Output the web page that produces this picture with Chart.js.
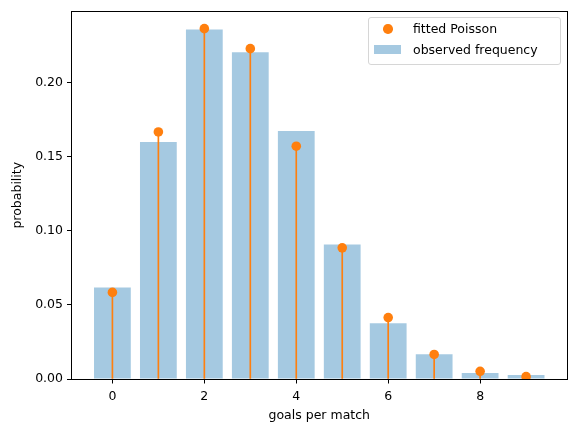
<!DOCTYPE html>
<html>
<head>
<meta charset="utf-8">
<script src="https://cdn.jsdelivr.net/npm/chart.js@4/dist/chart.umd.min.js"></script>
<style>
  html, body { margin: 0; padding: 0; background: #fff; }
  #wrap { position: relative; width: 576px; height: 433px; }
  #legend {
    position: absolute; left: 368px; top: 17px; width: 191px; height: 46px;
    border: 1px solid #d6d6d6; border-radius: 3px; background: rgba(255,255,255,0.8);
    font-family: 'DejaVu Sans', sans-serif; font-size: 12.5px; color: #000;
  }
  .item { position: absolute; left: 0; height: 16px; line-height: 16px; white-space: nowrap; }
  .item span.txt { position: absolute; left: 44px; top: 0; }
  .dot { position: absolute; left: 14px; top: 3px; width: 9.5px; height: 9.5px; border-radius: 50%; }
  .rect { position: absolute; left: 5px; top: 3px; width: 27px; height: 9px; }
</style>
</head>
<body>
<div id="wrap">
  <canvas id="chart" width="576" height="433"></canvas>
  <div id="legend"></div>
</div>
<script>
// goals per match
const goals = [0, 1, 2, 3, 4, 5, 6, 7, 8, 9];
// observed frequency (bars)
const observed = [0.0619, 0.1602, 0.2361, 0.2208, 0.1676, 0.0909, 0.0377, 0.0168, 0.0040, 0.0027];
// fitted Poisson probabilities (dots + stems)
const poisson = [0.0585, 0.1669, 0.2367, 0.2232, 0.1573, 0.0886, 0.0415, 0.0166, 0.0052, 0.0016];
const xTicks = [0, 2, 4, 6, 8];
const yTicks = [0.00, 0.05, 0.10, 0.15, 0.20];

const blue = 'rgba(31,119,180,0.4)';
const orange = '#ff7f0e';
const font = { family: "'DejaVu Sans', sans-serif", size: 12.5 };

const toXY = (vals) => goals.map((g, i) => ({ x: g, y: vals[i] }));

// empty top/right axes, only there to draw the frame lines
const frameAxis = (position) => ({
    type: 'linear',
    position,
    ticks: { display: false },
    grid: { drawOnChartArea: false, drawTicks: false },
    border: { display: true, color: '#000', width: 1 },
    afterFit: (s) => { if (s.isHorizontal()) s.height = 0; else s.width = 0; }
});

const chart = new Chart(document.getElementById('chart').getContext('2d'), {
    type: 'bar',
    data: {
        datasets: [
            {
                type: 'scatter',
                label: 'fitted Poisson',
                data: toXY(poisson),
                backgroundColor: orange,
                borderColor: orange,
                pointRadius: 4.8,
                pointBorderWidth: 0,
                showLine: false,
                order: 1
            },
            {
                label: 'stems',
                data: toXY(poisson),
                backgroundColor: orange,
                barThickness: 1,
                grouped: false,
                order: 2
            },
            {
                label: 'observed frequency',
                data: toXY(observed),
                backgroundColor: blue,
                barPercentage: 0.8,
                categoryPercentage: 1.0,
                grouped: false,
                order: 3
            }
        ]
    },
    options: {
        responsive: false,
        animation: false,
        devicePixelRatio: 1,
        layout: { padding: { top: 10, right: 9, left: 0, bottom: 0 } },
        plugins: { legend: { display: false }, tooltip: { enabled: false } },
        scales: {
            x: {
                type: 'linear',
                min: -0.89,
                max: 9.89,
                offset: false,
                afterBuildTicks: (s) => { s.ticks = xTicks.map(v => ({ value: v })); },
                afterFit: (s) => { s.height = 54; },
                grid: { offset: false, drawOnChartArea: false, drawTicks: true, tickLength: 4.5, color: '#000' },
                border: { display: true, color: '#000' },
                ticks: { color: '#000', font, padding: 6, maxRotation: 0 },
                title: { display: true, text: 'goals per match', color: '#000', font, padding: { top: 1, bottom: 10 } }
            },
            y: {
                min: 0,
                max: 0.2483,
                afterBuildTicks: (s) => { s.ticks = yTicks.map(v => ({ value: v })); },
                afterFit: (s) => { s.width = 71.5; },
                grid: { drawOnChartArea: false, drawTicks: true, tickLength: 4.5, color: '#000' },
                border: { display: true, color: '#000' },
                ticks: { color: '#000', font, padding: 4, callback: (v) => v.toFixed(2) },
                title: { display: true, text: 'probability', color: '#000', font, padding: { top: 10, bottom: 0 } }
            },
            xTop: frameAxis('top'),
            yRight: frameAxis('right')
        }
    }
});

// legend box drawn from the dataset settings
const legend = document.getElementById('legend');
const shown = chart.data.datasets.filter(d => d.label !== 'stems');
shown.forEach((d, i) => {
    const item = document.createElement('div');
    item.className = 'item';
    item.style.top = (i === 0 ? 3 : 24) + 'px';
    const sw = document.createElement('div');
    sw.className = d.type === 'scatter' ? 'dot' : 'rect';
    sw.style.background = d.backgroundColor;
    const txt = document.createElement('span');
    txt.className = 'txt';
    txt.textContent = d.label;
    item.appendChild(sw);
    item.appendChild(txt);
    legend.appendChild(item);
});
</script>
</body>
</html>
